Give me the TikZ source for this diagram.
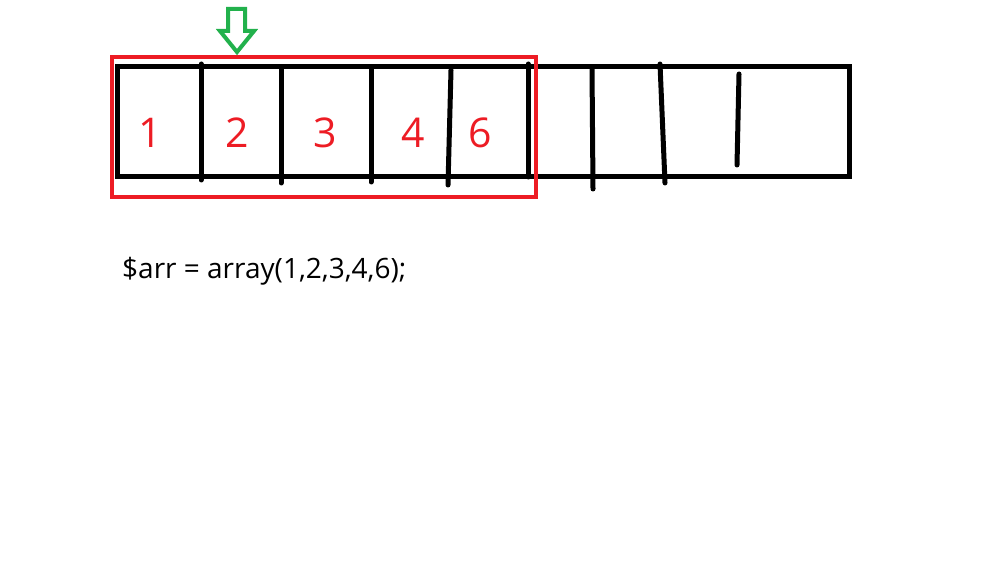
\documentclass[tikz,border=0pt]{standalone}
\usepackage{fontspec}
\setmainfont{Open Sans}
\usetikzlibrary{positioning}
\definecolor{paintred}{HTML}{ED1C24}
\definecolor{paintgreen}{HTML}{22B14C}

\begin{document}
\begin{tikzpicture}[
    x=1pt, y=-1pt,
    stroke/.style={line width=5pt, line cap=round},
    num/.style={text=paintred, inner sep=0pt, font=\fontsize{41}{41}\selectfont},
    code/.style={inner sep=0pt, anchor=base west, font=\fontsize{28}{28}\selectfont}
  ]
  \useasboundingbox (0,0) rectangle (990,572);
  % the array cells
  \draw[stroke, line cap=butt] (117,67) rectangle (849,177);
  \foreach \xa/\ya/\xb/\yb in {201/64/201/180, 281/69/281/183, 371/69/371/182,
      451/70/448/185, 528/64/528/177, 592/68/593/189, 660/64/665/183, 739/74/737/165}
    \draw[stroke] (\xa,\ya) -- (\xb,\yb);
  \node[num] (n1) at (150,133) {1};
  \node[num] (n2) at (237,133) {2};
  \node[num] (n3) at (325,133) {3};
  \node[num] (n4) at (413,133) {4};
  \node[num] (n6) at (480,133) {6};
  % used part and pointer
  \draw[paintred, line width=4.5pt] (112,57) rectangle (536,197);
  \draw[paintgreen, line width=4pt, line join=miter]
    (228,9) -- (245,9) -- (245,31) -- (254,31) -- (237,52) -- (220,31) -- (228,31) -- cycle;
  \node[code] (arr) at (122,278) {\$arr = array(1,2,3,4,6);};
\end{tikzpicture}
\end{document}
